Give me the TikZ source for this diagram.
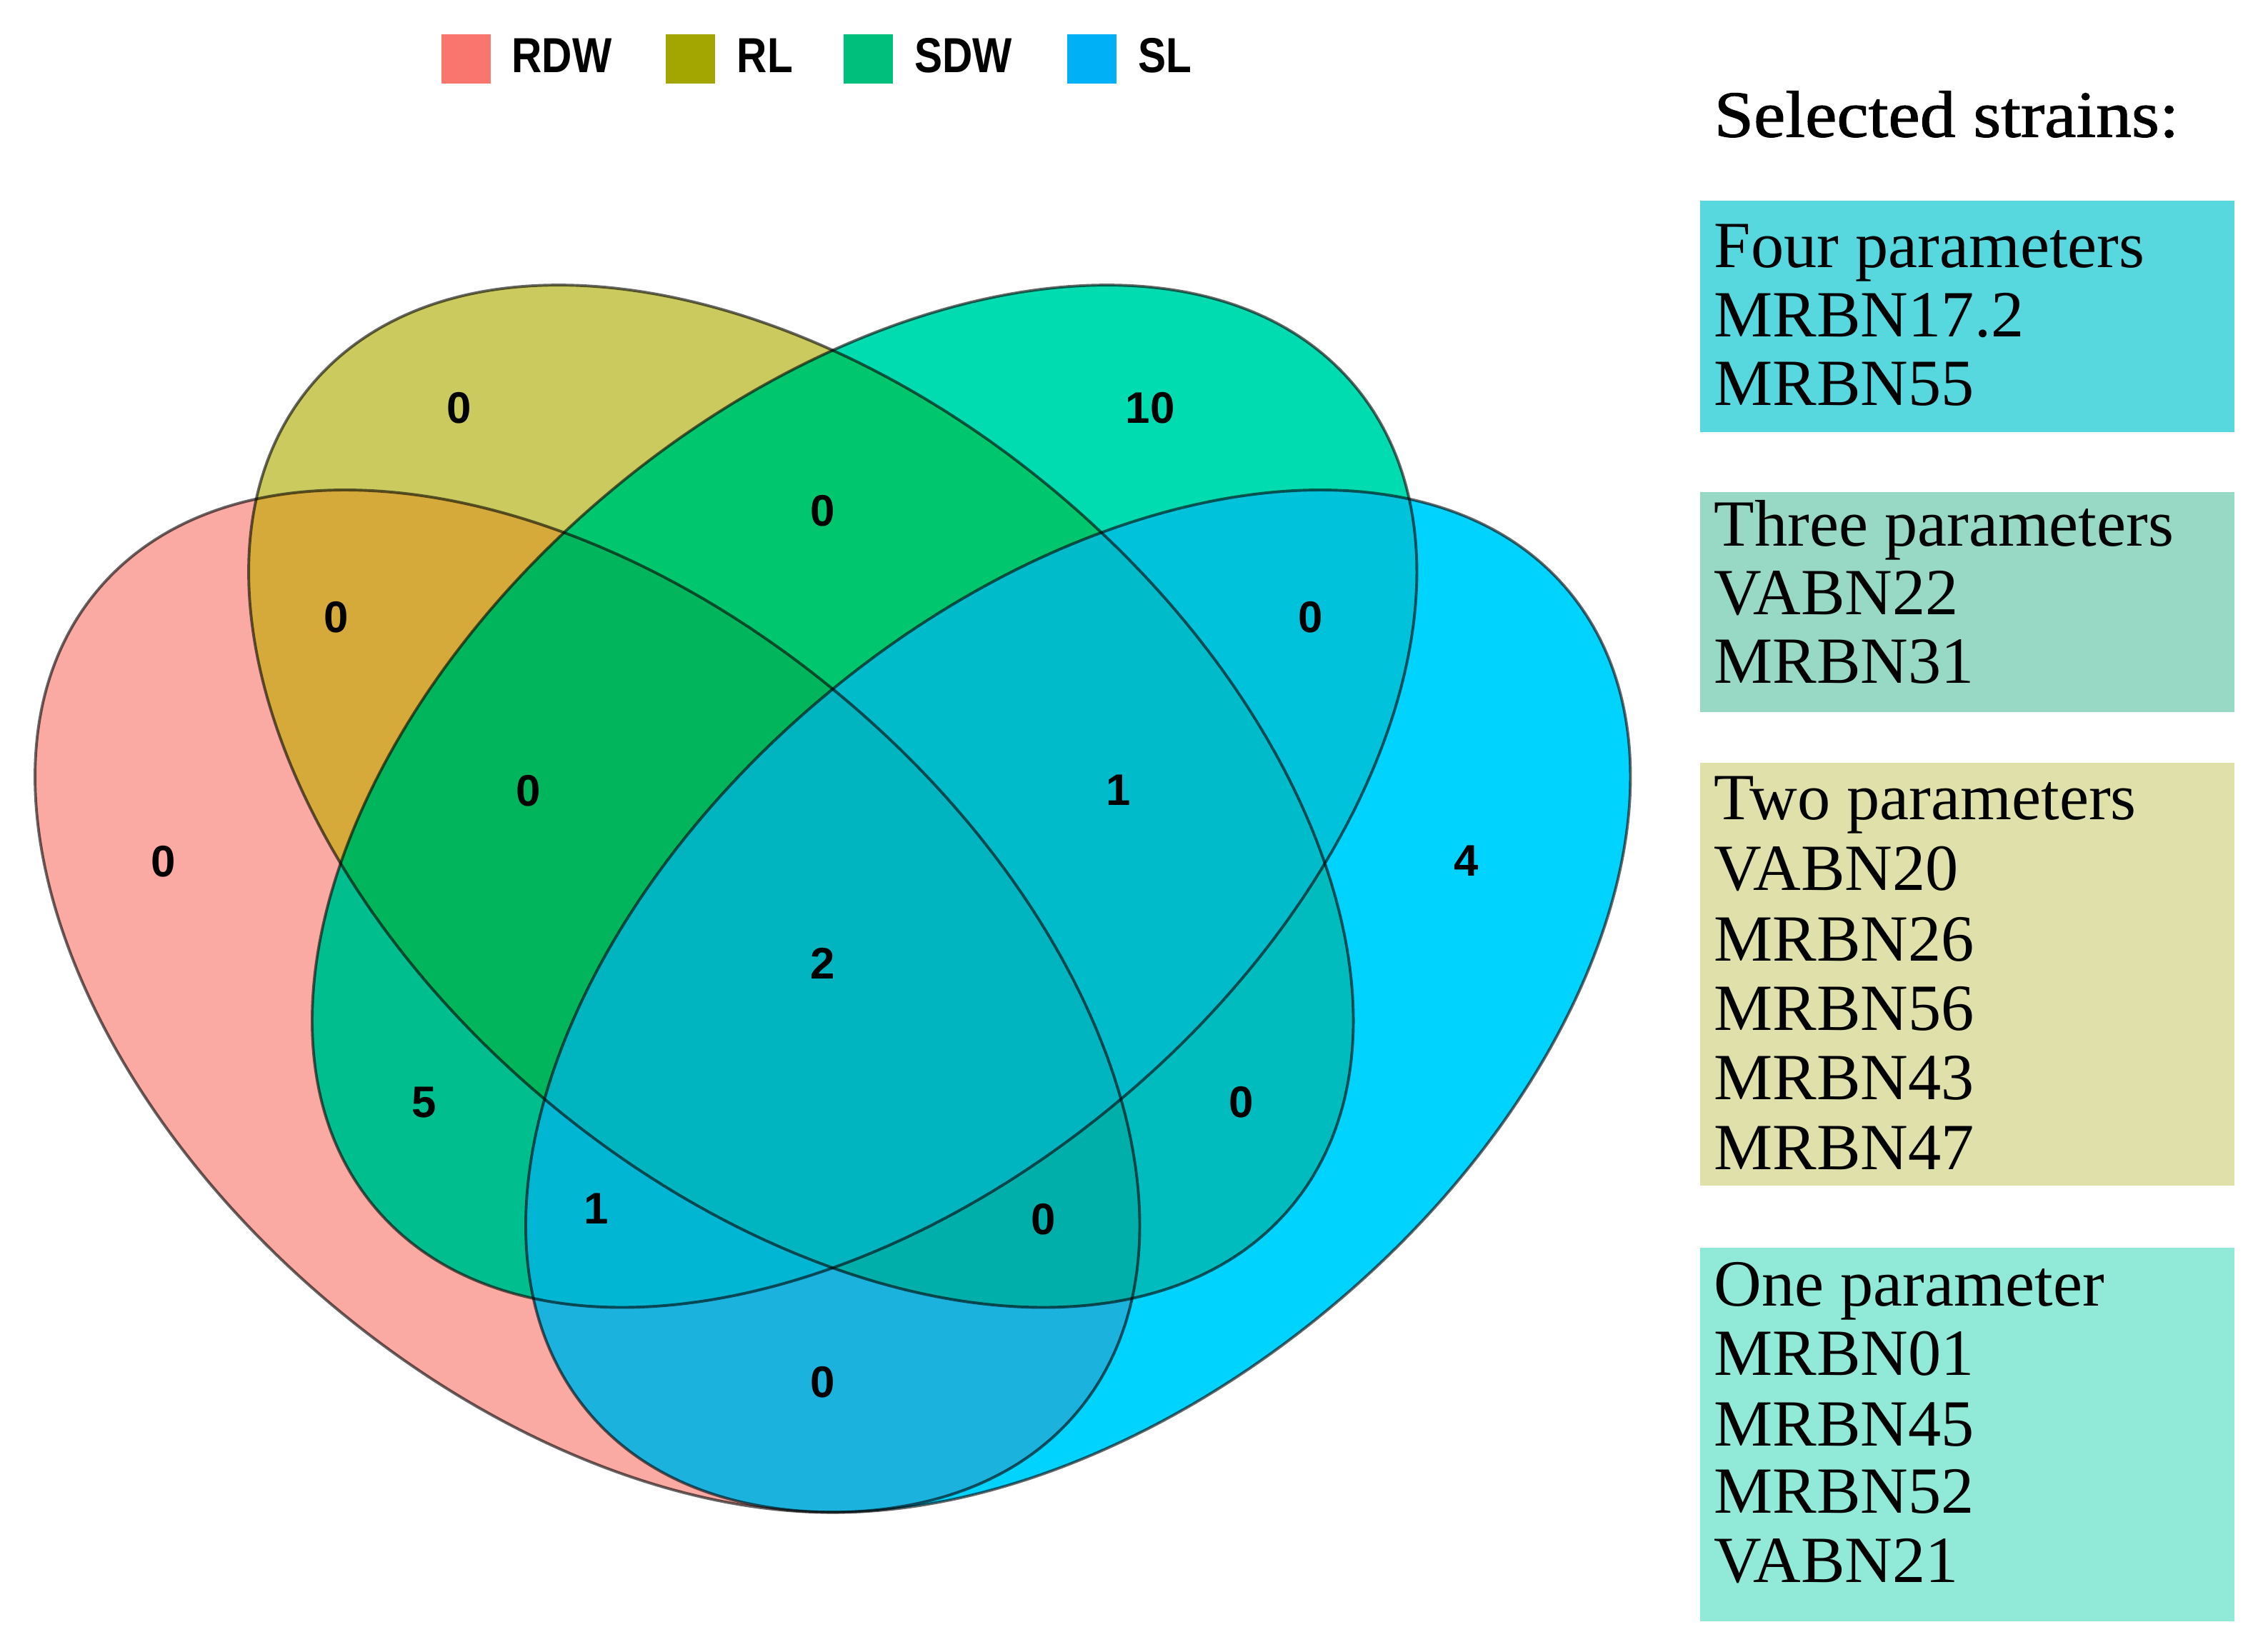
\documentclass[tikz,border=0pt]{standalone}
\usepackage{fontspec}
\setmainfont{Liberation Serif}
\newfontfamily\lsans{Liberation Sans}
\newfontfamily\titlefont[FakeBold=1.2,FakeStretch=1.08]{Liberation Serif}
\definecolor{cRDW}{HTML}{F8766D}
\definecolor{cRL}{HTML}{A3A500}
\definecolor{cSDW}{HTML}{00BF7D}
\definecolor{cSL}{HTML}{00B0F6}
\definecolor{rA}{HTML}{FBA9A3}
\definecolor{rB}{HTML}{CBCA5F}
\definecolor{rC}{HTML}{00DCB0}
\definecolor{rD}{HTML}{00D3FE}
\definecolor{rAB}{HTML}{D5AA3A}
\definecolor{rAC}{HTML}{00BE8E}
\definecolor{rAD}{HTML}{1BB2DD}
\definecolor{rBC}{HTML}{00C76D}
\definecolor{rBD}{HTML}{00BCBE}
\definecolor{rCD}{HTML}{00C3DB}
\definecolor{rABC}{HTML}{00B55B}
\definecolor{rABD}{HTML}{00AFAA}
\definecolor{rACD}{HTML}{00B6D3}
\definecolor{rBCD}{HTML}{00BCCA}
\definecolor{rABCD}{HTML}{00B5BF}
\definecolor{boxFour}{HTML}{57D8DE}
\definecolor{boxThree}{HTML}{98D9C5}
\definecolor{boxTwo}{HTML}{E0E0AA}
\definecolor{boxOne}{HTML}{91EAD7}
\begin{document}
\begin{tikzpicture}[x=0.01cm,y=0.01cm,
  outl/.style={draw=black,draw opacity=0.6,line width=0.55pt},
  num/.style={font=\lsans\bfseries\fontsize{8.7}{10}\selectfont, inner sep=0pt},
  leg/.style={font=\lsans\bfseries\fontsize{9.7}{11}\selectfont, inner sep=0pt, anchor=base west},
  legsq/.style={minimum size=0.34cm, inner sep=0pt, draw=none},
  strain/.style={font=\fontsize{13}{15}\selectfont, inner sep=0pt, anchor=base west},
  ]
\useasboundingbox (0,0) rectangle (1568,1144.8);
\def\eA{(407,451) ellipse [x radius=443, y radius=275, rotate=-40]}
\def\eB{(555,593) ellipse [x radius=443, y radius=275, rotate=-40]}
\def\eC{(599,593) ellipse [x radius=443, y radius=275, rotate=40]}
\def\eD{(747,451) ellipse [x radius=443, y radius=275, rotate=40]}
% single sets
\fill[rA] \eA;
\fill[rB] \eB;
\fill[rC] \eC;
\fill[rD] \eD;
% pairs
\begin{scope}\clip \eA; \fill[rAB] \eB; \end{scope}
\begin{scope}\clip \eA; \fill[rAC] \eC; \end{scope}
\begin{scope}\clip \eA; \fill[rAD] \eD; \end{scope}
\begin{scope}\clip \eB; \fill[rBC] \eC; \end{scope}
\begin{scope}\clip \eB; \fill[rBD] \eD; \end{scope}
\begin{scope}\clip \eC; \fill[rCD] \eD; \end{scope}
% triples
\begin{scope}\clip \eA; \clip \eB; \fill[rABC] \eC; \end{scope}
\begin{scope}\clip \eA; \clip \eB; \fill[rABD] \eD; \end{scope}
\begin{scope}\clip \eA; \clip \eC; \fill[rACD] \eD; \end{scope}
\begin{scope}\clip \eB; \clip \eC; \fill[rBCD] \eD; \end{scope}
% all four
\begin{scope}\clip \eA; \clip \eB; \clip \eC; \fill[rABCD] \eD; \end{scope}
% outlines
\draw[outl] \eA;
\draw[outl] \eB;
\draw[outl] \eC;
\draw[outl] \eD;
% region counts
\node[num] (nB)    at (318,862) {0};
\node[num] (nBC)   at (570,791) {0};
\node[num] (nC)    at (797,862) {10};
\node[num] (nAB)   at (233,717) {0};
\node[num] (nCD)   at (908,717) {0};
\node[num] (nA)    at (113,548) {0};
\node[num] (nABC)  at (366,597) {0};
\node[num] (nBCD)  at (775,597) {1};
\node[num] (nD)    at (1016,548) {4};
\node[num] (nABCD) at (570,477) {2};
\node[num] (nAC)   at (294,381) {5};
\node[num] (nBD)   at (860,381) {0};
\node[num] (nACD)  at (413,307) {1};
\node[num] (nABD)  at (723,300) {0};
\node[num] (nAD)   at (570,187) {0};
% legend
\node[legsq, fill=cRDW] (sqRDW) at (323,1104) {};
\node[legsq, fill=cRL]  (sqRL)  at (478.5,1104) {};
\node[legsq, fill=cSDW] (sqSDW) at (601.5,1104) {};
\node[legsq, fill=cSL]  (sqSL)  at (756.5,1104) {};
\node[leg] (tRDW) at (354,1094.5) {\scalebox{0.85}[1]{RDW}};
\node[leg] (tRL)  at (510,1094.5) {\scalebox{0.85}[1]{RL}};
\node[leg] (tSDW) at (633,1094.5) {\scalebox{0.85}[1]{SDW}};
\node[leg] (tSL)  at (788,1094.5) {\scalebox{0.85}[1]{SL}};
% right panel
\node[strain, font=\titlefont\fontsize{13}{15}\selectfont] (title) at (1187,1050) {Selected strains:};
\fill[boxFour]  (1178,845.5) rectangle (1548,1005.5);
\fill[boxThree] (1178,651.5) rectangle (1548,804);
\fill[boxTwo]   (1178,323.4) rectangle (1548,616.4);
\fill[boxOne]   (1178,21)    rectangle (1548,280.3);
\node[strain] (f0) at (1187,959.4) {Four parameters};
\node[strain] (f1) at (1187,911.5) {MRBN17.2};
\node[strain] (f2) at (1187,864)   {MRBN55};
\node[strain] (h0) at (1187,766.3) {Three parameters};
\node[strain] (h1) at (1187,719)   {VABN22};
\node[strain] (h2) at (1187,671.5) {MRBN31};
\node[strain] (w0) at (1187,577)   {Two parameters};
\node[strain] (w1) at (1187,528)   {VABN20};
\node[strain] (w2) at (1187,479)   {MRBN26};
\node[strain] (w3) at (1187,431)   {MRBN56};
\node[strain] (w4) at (1187,383)   {MRBN43};
\node[strain] (w5) at (1187,334.4) {MRBN47};
\node[strain] (o0) at (1187,240)   {One parameter};
\node[strain] (o1) at (1187,192)   {MRBN01};
\node[strain] (o2) at (1187,143)   {MRBN45};
\node[strain] (o3) at (1187,96)    {MRBN52};
\node[strain] (o4) at (1187,48)    {VABN21};
\end{tikzpicture}
\end{document}
